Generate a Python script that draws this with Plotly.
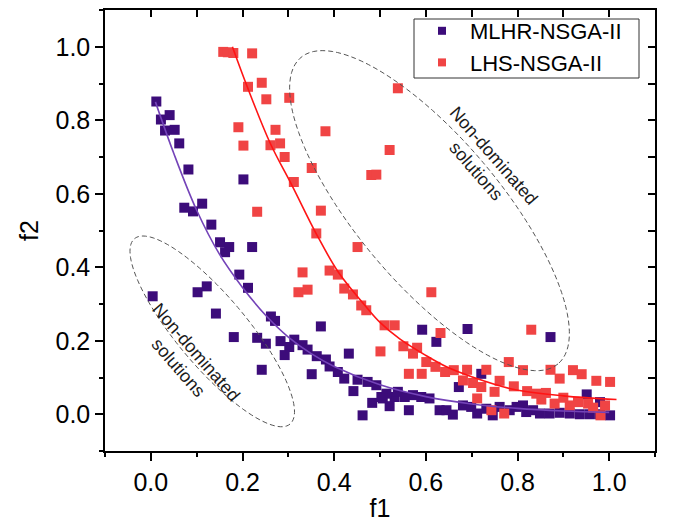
import numpy as np
import plotly.graph_objects as go

# ---------------- data ----------------
mlhr_f1 = [0.012, 0.022, 0.041, 0.031, 0.052, 0.062, 0.082, 0.202, 0.073, 0.092, 0.112, 0.132,
           0.151, 0.171, 0.221, 0.162, 0.193, 0.212, 0.004, 0.102, 0.122, 0.142, 0.262, 0.271,
           0.181, 0.232, 0.251, 0.283, 0.302, 0.313, 0.292, 0.331, 0.342, 0.371, 0.362, 0.382,
           0.390, 0.408, 0.422, 0.242, 0.351, 0.432, 0.442, 0.451, 0.473, 0.492, 0.483, 0.503,
           0.521, 0.532, 0.514, 0.462, 0.592, 0.691, 0.872, 0.623, 0.721, 0.672, 0.951, 0.980,
           0.506, 0.539, 0.554, 0.563, 0.572, 0.590, 0.608, 0.630, 0.645, 0.659, 0.681, 0.699,
           0.712, 0.732, 0.746, 0.761, 0.783, 0.798, 0.812, 0.819, 0.834, 0.849, 0.870, 0.892,
           0.914, 0.936, 0.958, 0.980, 1.002]
mlhr_f2 = [0.851, 0.802, 0.814, 0.772, 0.774, 0.737, 0.666, 0.639, 0.562, 0.552, 0.573, 0.516,
           0.468, 0.455, 0.455, 0.441, 0.380, 0.344, 0.321, 0.332, 0.348, 0.274, 0.266, 0.254,
           0.210, 0.208, 0.192, 0.199, 0.183, 0.203, 0.161, 0.188, 0.176, 0.239, 0.158, 0.149,
           0.130, 0.115, 0.097, 0.121, 0.109, 0.165, 0.063, 0.094, 0.088, 0.079, 0.031, 0.047,
           0.022, 0.047, 0.056, -0.003, 0.230, 0.232, 0.210, 0.197, 0.110, 0.074, 0.054, 0.033,
           0.043, 0.061, 0.047, 0.011, 0.052, 0.047, 0.043, 0.011, 0.011, -0.001, 0.024, 0.020,
           0.002, 0.015, -0.003, 0.020, 0.011, 0.020, 0.024, 0.006, 0.011, 0.002, 0.002, 0.004,
           0.002, 0.000, 0.000, 0.000, -0.003]

lhs_f1 = [0.158, 0.168, 0.180, 0.221, 0.212, 0.242, 0.252, 0.302, 0.191, 0.272, 0.381, 0.202,
          0.261, 0.282, 0.292, 0.351, 0.312, 0.232, 0.371, 0.361, 0.451, 0.539, 0.521, 0.481,
          0.492, 0.331, 0.390, 0.408, 0.322, 0.342, 0.422, 0.441, 0.459, 0.470, 0.510, 0.532,
          0.501, 0.612, 0.632, 0.830, 0.551, 0.572, 0.581, 0.601, 0.621, 0.642, 0.661, 0.690,
          0.732, 0.563, 0.591, 0.781, 0.812, 0.872, 0.892, 0.921, 0.940, 0.972, 1.002, 0.681,
          0.703, 0.721, 0.750, 0.761, 0.792, 0.821, 0.841, 0.862, 0.852, 0.881, 0.900, 0.914,
          0.932, 0.954, 0.965, 0.991, 0.981, 0.712, 0.743, 0.771]
lhs_f2 = [0.986, 0.985, 0.983, 0.982, 0.891, 0.902, 0.857, 0.861, 0.781, 0.774, 0.770, 0.731,
          0.732, 0.737, 0.700, 0.670, 0.632, 0.551, 0.554, 0.492, 0.455, 0.887, 0.719, 0.651,
          0.652, 0.386, 0.391, 0.380, 0.332, 0.339, 0.342, 0.326, 0.296, 0.283, 0.242, 0.242,
          0.171, 0.332, 0.221, 0.230, 0.185, 0.165, 0.181, 0.142, 0.129, 0.115, 0.120, 0.121,
          0.121, 0.110, 0.110, 0.142, 0.120, 0.121, 0.097, 0.120, 0.109, 0.091, 0.088, 0.092,
          0.085, 0.074, 0.061, 0.091, 0.076, 0.063, 0.056, 0.058, 0.040, 0.029, 0.045, 0.024,
          0.033, 0.029, 0.018, 0.024, -0.003, 0.043, 0.011, 0.002]

mlhr_fit_f1 = [0.01, 0.05, 0.10, 0.15, 0.20, 0.25, 0.30, 0.35, 0.40, 0.50, 0.60, 0.70, 0.80, 0.90, 1.00]
mlhr_fit_f2 = [0.85, 0.71, 0.555, 0.435, 0.345, 0.27, 0.21, 0.165, 0.13, 0.08, 0.048, 0.028, 0.016, 0.009, 0.005]

lhs_fit_f1 = [0.178, 0.211, 0.261, 0.309, 0.361, 0.41, 0.47, 0.50, 0.543, 0.60, 0.645, 0.70, 0.79, 0.90, 1.016]
lhs_fit_f2 = [1.0, 0.889, 0.736, 0.620, 0.491, 0.385, 0.292, 0.250, 0.205, 0.160, 0.129, 0.102, 0.068, 0.050, 0.040]

series_names = ["MLHR-NSGA-II", "LHS-NSGA-II"]

# ---------------- styling ----------------
FONT = "Liberation Sans, Arial, sans-serif"
PURPLE = "#3c0c7a"
RED = "#f04444"
PURPLE_LINE = "#7443b8"
RED_LINE = "#ff1414"
TICK_SIZE = 25

XR = [-0.1, 1.1]
YR = [-0.1, 1.1]
# plot-area pixel scale (used only to draw rotated ellipses with a true on-screen shape)
PLOT_W, PLOT_H = 550, 441
SX = PLOT_W / (XR[1] - XR[0])
SY = PLOT_H / (YR[1] - YR[0])


def ellipse_path(cx, cy, a_px, b_px, ang_deg, n=120):
    t = np.linspace(0, 2 * np.pi, n)
    th = np.deg2rad(ang_deg)
    u = a_px * np.cos(t) * np.cos(th) - b_px * np.sin(t) * np.sin(th)
    v = a_px * np.cos(t) * np.sin(th) + b_px * np.sin(t) * np.cos(th)
    xs = cx + u / SX
    ys = cy - v / SY
    pts = [f"{x:.5f},{y:.5f}" for x, y in zip(xs, ys)]
    return "M " + " L ".join(pts) + " Z"


fig = go.Figure()
fig.add_trace(go.Scatter(x=mlhr_f1, y=mlhr_f2, mode="markers", name=series_names[0], showlegend=False,
                         marker=dict(symbol="square", size=10, color=PURPLE, line=dict(width=0))))
fig.add_trace(go.Scatter(x=lhs_f1, y=lhs_f2, mode="markers", name=series_names[1], showlegend=False,
                         marker=dict(symbol="square", size=10, color=RED, line=dict(width=0))))
fig.add_trace(go.Scatter(x=mlhr_fit_f1, y=mlhr_fit_f2, mode="lines", showlegend=False,
                         line=dict(color=PURPLE_LINE, width=1.6, shape="spline")))
fig.add_trace(go.Scatter(x=lhs_fit_f1, y=lhs_fit_f2, mode="lines", showlegend=False,
                         line=dict(color=RED_LINE, width=1.6, shape="spline")))
# legend entries (smaller symbols, as in the original legend)
for nm, col in zip(series_names, [PURPLE, RED]):
    fig.add_trace(go.Scatter(x=[None], y=[None], mode="markers", name=nm,
                             marker=dict(symbol="square", size=8, color=col, line=dict(width=0))))
# dummy trace for the mirrored (top/right) axes
fig.add_trace(go.Scatter(x=[None], y=[None], xaxis="x2", yaxis="y2", showlegend=False,
                         hoverinfo="skip"))

axis_common = dict(
    range=XR, showline=True, linecolor="black", linewidth=1.5,
    showgrid=False, zeroline=False, tick0=0, dtick=0.2, automargin=False,
)
fig.update_layout(
    width=676, height=522,
    margin=dict(l=105, r=21, t=10, b=71),
    paper_bgcolor="white", plot_bgcolor="white",
    font=dict(family=FONT, color="black"),
    showlegend=True,
    xaxis=dict(**axis_common, ticks="outside", ticklen=8, tickwidth=1.5, tickcolor="black",
               tickformat=".1f", tickfont=dict(size=TICK_SIZE, family=FONT),
               minor=dict(dtick=0.1, ticks="outside", ticklen=4, tickwidth=1.5, tickcolor="black"),
               title=dict(text="f1", font=dict(size=TICK_SIZE, family=FONT), standoff=12)),
    yaxis=dict(**{**axis_common, "range": YR}, ticks="outside", ticklen=8, tickwidth=1.5,
               tickcolor="black", tickformat=".1f", tickfont=dict(size=TICK_SIZE, family=FONT),
               minor=dict(dtick=0.1, ticks="outside", ticklen=4, tickwidth=1.5, tickcolor="black"),
               title=dict(text="f2", font=dict(size=TICK_SIZE, family=FONT), standoff=10)),
    xaxis2=dict(**axis_common, overlaying="x", side="top", ticks="inside", ticklen=7,
                tickwidth=1.5, tickcolor="black", showticklabels=False,
                minor=dict(dtick=0.1, ticks="inside", ticklen=7, tickwidth=1.5, tickcolor="black")),
    yaxis2=dict(**{**axis_common, "range": YR}, overlaying="y", side="right", ticks="inside",
                ticklen=7, tickwidth=1.5, tickcolor="black", showticklabels=False,
                minor=dict(dtick=0.1, ticks="inside", ticklen=7, tickwidth=1.5, tickcolor="black")),
    legend=dict(x=0.5618, y=1.0, xanchor="left", yanchor="top",
                borderwidth=0, bgcolor="rgba(0,0,0,0)",
                font=dict(size=22, family=FONT), itemwidth=46, tracegroupgap=0),
)

# legend frame
fig.add_shape(type="rect", xref="paper", yref="paper",
              x0=(414 - 105) / PLOT_W, x1=(639 - 105) / PLOT_W,
              y0=(451 - 78) / PLOT_H, y1=(451 - 19) / PLOT_H,
              line=dict(color="#333333", width=1), fillcolor="white", layer="above")

# dashed ellipses marking the non-dominated solutions
for (cx, cy, a, b, ang) in [(0.134, 0.2255, 121, 35, 50), (0.608, 0.554, 200, 72, 50)]:
    fig.add_shape(type="path", xref="x", yref="y", path=ellipse_path(cx, cy, a, b, ang),
                  line=dict(color="#555555", width=1, dash="5px,3px"), fillcolor="rgba(0,0,0,0)")

for (tx, ty) in [(0.079, 0.149), (0.729, 0.681)]:
    fig.add_annotation(x=tx, y=ty, xref="x", yref="y", text="Non-dominated<br>solutions",
                       showarrow=False, textangle=49, xanchor="center", yanchor="middle",
                       font=dict(size=18, family=FONT, color="#1a1a1a"))

fig.write_html("out.html")
